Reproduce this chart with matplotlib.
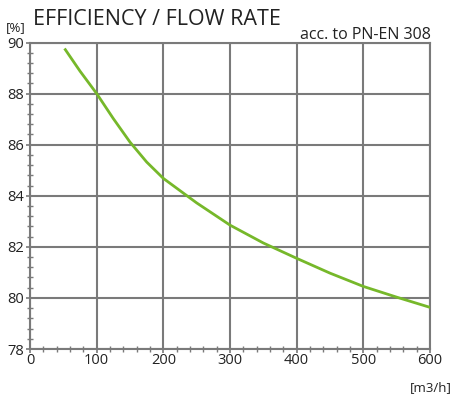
import matplotlib.pyplot as plt
from matplotlib.ticker import MultipleLocator

plt.rcParams['font.family'] = ['Open Sans', 'DejaVu Sans']

# flow rate [m3/h] and efficiency [%]
flow = [53, 75, 100, 125, 150, 175, 200, 250, 300, 350, 400, 450, 500, 550, 600]
efficiency = [89.72, 88.88, 88.0, 87.02, 86.1, 85.32, 84.68, 83.72, 82.85,
              82.15, 81.55, 80.97, 80.45, 80.03, 79.63]

x_ticks = [0, 100, 200, 300, 400, 500, 600]
y_ticks = [78, 80, 82, 84, 86, 88, 90]

grid_col = '#7a7a7a'
line_col = '#76b82a'

fig = plt.figure(figsize=(4.53, 3.99), dpi=100)
ax = fig.add_axes([30/453, 1 - 349/399, 400/453, (349 - 42.5)/399])

ax.plot(flow, efficiency, color=line_col, lw=2, solid_joinstyle='round', zorder=3)

ax.set_xlim(0, 600)
ax.set_ylim(78, 90)
ax.set_xticks(x_ticks)
ax.set_yticks(y_ticks)
ax.xaxis.set_minor_locator(MultipleLocator(20))
ax.yaxis.set_minor_locator(MultipleLocator(0.4))
ax.grid(True, which='major', color=grid_col, lw=1.5)
for s in ax.spines.values():
    s.set_color(grid_col)
    s.set_linewidth(1.5)
ax.tick_params(which='major', direction='inout', length=6, width=1.2, color=grid_col,
               labelsize=10.5, labelcolor='#222222', pad=1)
ax.tick_params(which='minor', direction='inout', length=4, width=1, color=grid_col)
ax.tick_params(axis='x', pad=0)

fig.text(33/453, 1 - 25/399, 'EFFICIENCY / FLOW RATE', fontsize=15.5, color='#222222',
         ha='left', va='baseline')
fig.text(6/453, 1 - 31/399, '[%]', fontsize=9.5, color='#222222', ha='left', va='baseline')
fig.text(431/453, 1 - 39/399, 'acc. to PN-EN 308', fontsize=11.5, color='#222222',
         ha='right', va='baseline')
fig.text(452/453, 1 - 391/399, '[m3/h]', fontsize=9.5, color='#222222',
         ha='right', va='baseline')

fig.savefig('out.png', dpi=100)
